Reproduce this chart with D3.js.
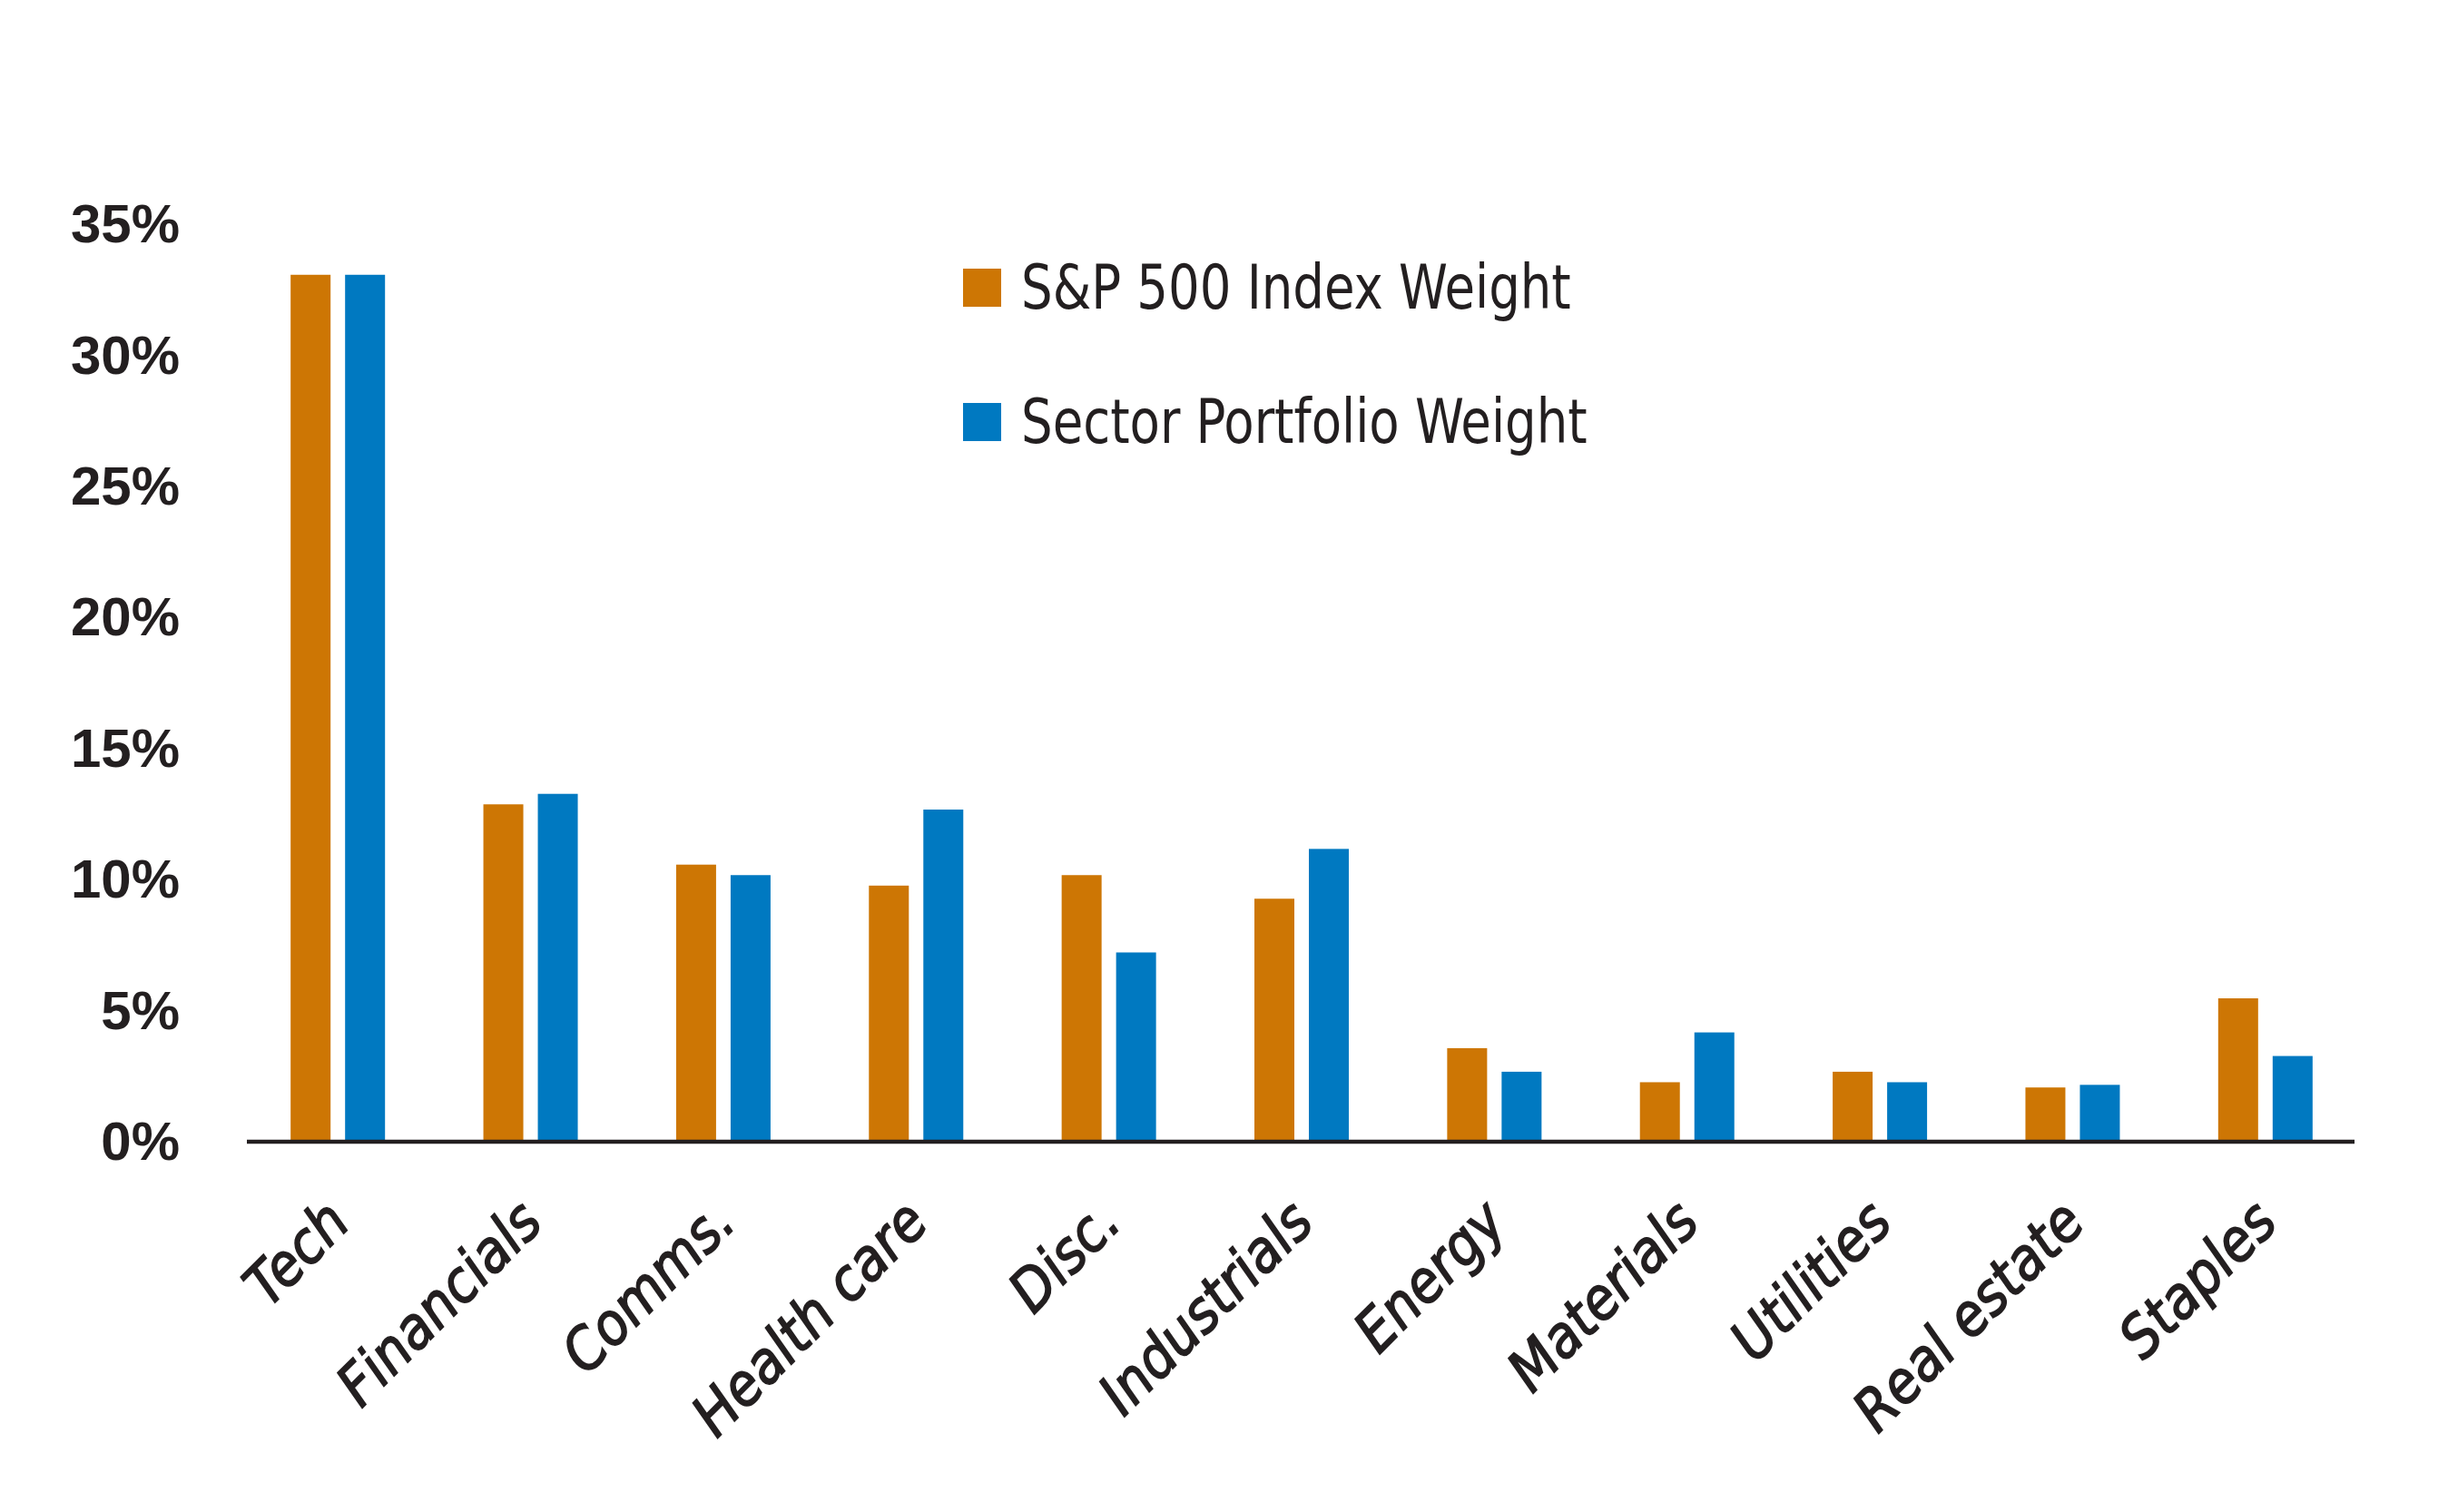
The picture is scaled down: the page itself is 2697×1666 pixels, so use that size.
<!DOCTYPE html>
<html>
<head>
<meta charset="utf-8">
<script src="https://cdn.jsdelivr.net/npm/d3@7"></script>
<style>
  html, body { margin: 0; padding: 0; background: #ffffff; }
  svg { display: block; }
</style>
</head>
<body>
<svg id="chart" width="2697" height="1666"></svg>
<script>
const categories = ["Tech", "Financials", "Comms.", "Health care", "Disc.", "Industrials", "Energy", "Materials", "Utilities", "Real estate", "Staples"];
const sp500Weight = [33.0, 12.8, 10.5, 9.7, 10.1, 9.2, 3.5, 2.2, 2.6, 2.0, 5.4];
const sectorWeight = [33.0, 13.2, 10.1, 12.6, 7.15, 11.1, 2.6, 4.1, 2.2, 2.1, 3.2];
const seriesNames = ["S&P 500 Index Weight", "Sector Portfolio Weight"];
const seriesColors = ["#cd7604", "#0079c1"];
const yTicks = [0, 5, 10, 15, 20, 25, 30, 35];

const svg = d3.select("#chart");
const textColor = "#231f20";
const condensed = "'DejaVu Sans Condensed', 'Liberation Sans Narrow', 'Liberation Sans', Arial, sans-serif";

const y = d3.scaleLinear().domain([0, 35]).range([1256, 245]);
const x0 = d3.scaleBand().domain(categories).range([266, 2602]).paddingInner(0).paddingOuter(0);
const x1 = d3.scaleBand().domain(seriesNames).range([0, 104]).paddingInner(0.2667).paddingOuter(0);

const rows = categories.map((c, i) => ({ cat: c, values: [sp500Weight[i], sectorWeight[i]] }));

// bars
const groups = svg.append("g").selectAll("g").data(rows).join("g")
  .attr("transform", d => `translate(${x0(d.cat) + x0.bandwidth() / 2 - 52},0)`);
groups.selectAll("rect").data(d => d.values.map((v, j) => ({ s: seriesNames[j], v, j })))
  .join("rect")
  .attr("x", d => x1(d.s))
  .attr("width", x1.bandwidth())
  .attr("y", d => y(d.v))
  .attr("height", d => y(0) - y(d.v))
  .attr("fill", d => seriesColors[d.j]);

// baseline
svg.append("line")
  .attr("x1", 272).attr("x2", 2594)
  .attr("y1", y(0) + 2).attr("y2", y(0) + 2)
  .attr("stroke", textColor).attr("stroke-width", 4.5);

// y axis
const yAxis = d3.axisLeft(y).tickValues(yTicks).tickSize(0).tickPadding(0).tickFormat(d => d + "%");
const yg = svg.append("g").attr("transform", "translate(198,0)").call(yAxis);
yg.select(".domain").remove();
yg.selectAll("text")
  .attr("fill", textColor)
  .style("font-family", "'Liberation Sans', Arial, sans-serif")
  .style("font-weight", "bold")
  .style("font-size", "60px")
  .attr("dy", "0.36em");

// x labels
const xg = svg.append("g");
xg.selectAll("text").data(categories).join("text")
  .attr("transform", d => `translate(${x0(d) + x0.bandwidth() / 2 + 16},${1350}) rotate(-45)`)
  .attr("text-anchor", "end")
  .attr("fill", textColor)
  .attr("stroke", textColor)
  .attr("stroke-width", 1.6)
  .style("font-family", condensed)
  .style("font-style", "italic")
  .style("font-size", "64px")
  .text(d => d);

// legend
const legend = svg.append("g");
const lg = legend.selectAll("g").data(seriesNames).join("g")
  .attr("transform", (d, i) => `translate(1061,${296 + i * 148})`);
lg.append("rect").attr("width", 42).attr("height", 42).attr("fill", (d, i) => seriesColors[i]);
lg.append("text")
  .attr("transform", "translate(64,21) scale(0.905,1)")
  .attr("dy", "0.35em")
  .attr("fill", textColor)
  .style("font-family", condensed)
  .style("font-size", "67px")
  .text(d => d);
</script>
</body>
</html>
